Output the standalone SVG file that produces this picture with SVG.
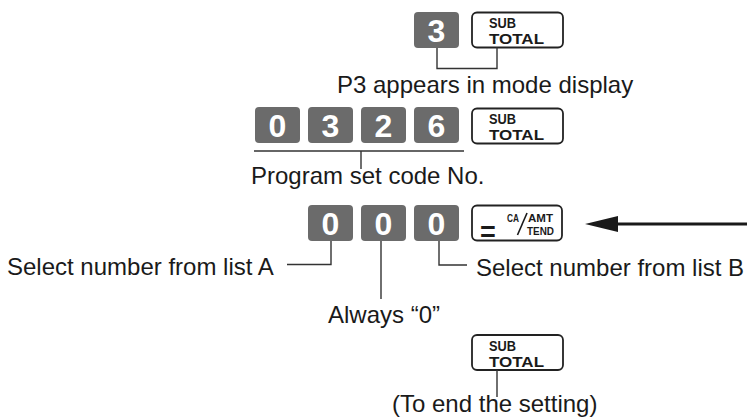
<svg xmlns="http://www.w3.org/2000/svg" width="747" height="418" viewBox="0 0 747 418">
<style>
.key{fill:#6b6b6b}
.dig{font-family:"Liberation Sans",Arial,sans-serif;font-weight:bold;font-size:32px;fill:#fff;text-anchor:middle}
.box{fill:#fff;stroke:#222;stroke-width:1.8}
.kt{font-family:"Liberation Sans",Arial,sans-serif;font-weight:bold;font-size:15px;fill:#1a1a1a}
.st{font-family:"Liberation Sans",Arial,sans-serif;font-weight:bold;font-size:11px;fill:#1a1a1a}
.lbl{font-family:"Liberation Sans",Arial,sans-serif;font-size:24px;fill:#1a1a1a}
.ln{fill:none;stroke:#333;stroke-width:1.4}
</style>
<rect width="747" height="418" fill="#fff"/>
<g id="row1-key3"><rect class="key" x="414" y="12" width="45" height="36" rx="4"/><text class="dig" x="436.5" y="41.5">3</text></g>
<g id="row1-subtotal"><rect class="box" x="472" y="12.5" width="91" height="35" rx="5"/><text class="kt" x="489" y="28" textLength="27" lengthAdjust="spacingAndGlyphs">SUB</text><text class="kt" x="489" y="43.5" textLength="55" lengthAdjust="spacingAndGlyphs">TOTAL</text></g>
<g id="label-p3"><text class="lbl" x="337" y="93">P3 appears in mode display</text></g>
<g id="row2-key0"><rect class="key" x="255" y="107" width="45" height="36" rx="4"/><text class="dig" x="277.5" y="136.5">0</text></g>
<g id="row2-key3"><rect class="key" x="308" y="107" width="45" height="36" rx="4"/><text class="dig" x="330.5" y="136.5">3</text></g>
<g id="row2-key2"><rect class="key" x="361" y="107" width="45" height="36" rx="4"/><text class="dig" x="383.5" y="136.5">2</text></g>
<g id="row2-key6"><rect class="key" x="414" y="107" width="45" height="36" rx="4"/><text class="dig" x="436.5" y="136.5">6</text></g>
<g id="row2-subtotal"><rect class="box" x="472" y="108.5" width="91" height="35" rx="5"/><text class="kt" x="489" y="124" textLength="27" lengthAdjust="spacingAndGlyphs">SUB</text><text class="kt" x="489" y="139.5" textLength="55" lengthAdjust="spacingAndGlyphs">TOTAL</text></g>
<g id="label-program"><text class="lbl" x="251" y="184">Program set code No.</text></g>
<g id="row3-key0a"><rect class="key" x="308" y="205" width="45" height="36" rx="4"/><text class="dig" x="330.5" y="234.5">0</text></g>
<g id="row3-key0b"><rect class="key" x="361" y="205" width="45" height="36" rx="4"/><text class="dig" x="383.5" y="234.5">0</text></g>
<g id="row3-key0c"><rect class="key" x="414" y="205" width="45" height="36" rx="4"/><text class="dig" x="436.5" y="234.5">0</text></g>
<g id="row3-catend"><rect class="box" x="472" y="205.5" width="90" height="35" rx="5"/><text class="kt" x="480" y="241" style="font-size:27px">=</text><text class="st" x="507" y="222" textLength="12" lengthAdjust="spacingAndGlyphs">CA</text><line x1="527" y1="213" x2="517.5" y2="235" stroke="#1a1a1a" stroke-width="1.6"/><text class="st" x="528" y="222" textLength="25" lengthAdjust="spacingAndGlyphs">AMT</text><text class="st" x="527" y="234.5" textLength="27" lengthAdjust="spacingAndGlyphs">TEND</text></g>
<g id="label-list-a"><text class="lbl" x="7" y="275">Select number from list A</text></g>
<g id="label-list-b"><text class="lbl" x="476" y="276">Select number from list B</text></g>
<g id="label-always"><text class="lbl" x="328" y="323">Always “0”</text></g>
<g id="row4-subtotal"><rect class="box" x="472" y="335" width="91" height="35" rx="5"/><text class="kt" x="489" y="351" textLength="27" lengthAdjust="spacingAndGlyphs">SUB</text><text class="kt" x="489" y="366.5" textLength="55" lengthAdjust="spacingAndGlyphs">TOTAL</text></g>
<g id="label-end"><text class="lbl" x="392" y="412">(To end the setting)</text></g>
<g id="connectors">
<polyline class="ln" points="437,48 437,68.5 497,68.5 497,47.5"/>
<line class="ln" x1="254" y1="151" x2="464" y2="151"/>
<line class="ln" x1="361" y1="151" x2="361" y2="169"/>
<polyline class="ln" points="331,241 331,264.5 287,264.5"/>
<line class="ln" x1="381" y1="241" x2="381" y2="299"/>
<polyline class="ln" points="439,241 439,265 467,265"/>
<line class="ln" x1="497" y1="370" x2="497" y2="397"/>
<line x1="615" y1="224" x2="747" y2="224" stroke="#1a1a1a" stroke-width="3"/>
<polygon points="585,224 618,216 618,232" fill="#1a1a1a"/>
</g>
</svg>
